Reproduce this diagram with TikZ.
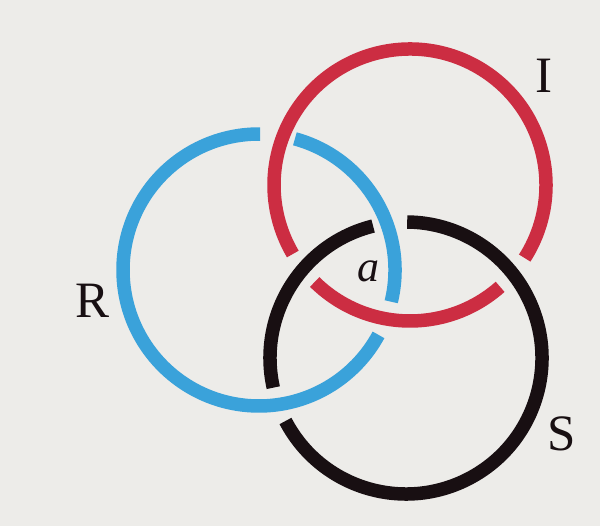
\documentclass[tikz,border=0pt]{standalone}
\usepackage{fontspec}
\setmainfont{Liberation Serif}
\definecolor{bg}{HTML}{EDECE9}
\definecolor{ringred}{HTML}{CC2D42}
\definecolor{ringblue}{HTML}{3AA2DA}
\definecolor{ringblack}{HTML}{180F12}
\begin{document}
\begin{tikzpicture}[x=1pt,y=1pt,
  ring/.style={line width=13.5pt, line cap=butt},
  lbl/.style={font=\fontsize{51}{51}\selectfont, anchor=base, inner sep=0pt, text=ringblack}]
\fill[bg] (0,0) rectangle (600,526);
\useasboundingbox (0,0) rectangle (600,526);
\coordinate (B) at (259,256);
\coordinate (R) at (410,341);
\coordinate (K) at (406,168);
% blue (R ring): under red, over black
\draw[ring, ringblue] ([shift={(89.5:136pt)}]B) arc[start angle=89.5, end angle=331.5, radius=136pt];
\draw[ring, ringblue] ([shift={(-13.5:136pt)}]B) arc[start angle=-13.5, end angle=74.7, radius=136pt];
% red (I ring): under black, over blue
\draw[ring, ringred] ([shift={(327.5:136pt)}]R) arc[start angle=327.5, end angle=570.5, radius=136pt];
\draw[ring, ringred] ([shift={(225.5:136pt)}]R) arc[start angle=225.5, end angle=311.5, radius=136pt];
% black (S ring): under blue, over red
\draw[ring, ringblack] ([shift={(104:136pt)}]K) arc[start angle=104, end angle=192.6, radius=136pt];
\draw[ring, ringblack] ([shift={(207.6:136pt)}]K) arc[start angle=207.6, end angle=449.5, radius=136pt];
% labels
\node[lbl] (lI) at (544,433) {I};
\node[lbl] (lR) at (93,208) {R};
\node[lbl] (lS) at (562,75) {S};
\node[lbl, font=\fontsize{44}{44}\selectfont\itshape] (la) at (368,244) {a};
\end{tikzpicture}
\end{document}
